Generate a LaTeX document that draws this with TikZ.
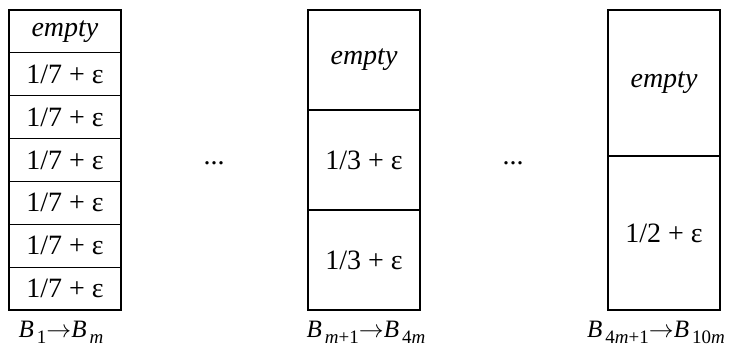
\documentclass[tikz,border=0pt]{standalone}
\usepackage{fontspec}
\setmainfont{Liberation Serif}
\usepackage{tikz}
\newcommand{\bin}[1]{\textit{B}\kern3pt\raisebox{-6pt}{\fontsize{19}{22}\selectfont #1}}

\begin{document}
\begin{tikzpicture}[x=1pt,y=-1pt,line cap=round,
  font=\fontsize{28}{32}\selectfont,
  cell/.style={draw,line width=1.1pt,minimum width=112pt,inner sep=0pt},
  binlabel/.style={anchor=base,font=\fontsize{25}{30}\selectfont}]
\useasboundingbox (0,0) rectangle (735,350);
% first group: seven rows
\node[cell,minimum height=42.86pt] (a0) at (65,31.43) {\textit{empty}};
\node[cell,minimum height=42.86pt] (a1) at (65,74.29) {1/7 + ε};
\node[cell,minimum height=42.86pt] (a2) at (65,117.14) {1/7 + ε};
\node[cell,minimum height=42.86pt] (a3) at (65,160) {1/7 + ε};
\node[cell,minimum height=42.86pt] (a4) at (65,202.86) {1/7 + ε};
\node[cell,minimum height=42.86pt] (a5) at (65,245.71) {1/7 + ε};
\node[cell,minimum height=42.86pt] (a6) at (65,288.57) {1/7 + ε};
\node[binlabel] (la) at (61,337) {\bin{1}$\rightarrow$\bin{\textit{m}}};
% second group: three rows
\node[cell,minimum height=100pt] (b0) at (364,60) {\textit{empty}};
\node[cell,minimum height=100pt] (b1) at (364,160) {1/3 + ε};
\node[cell,minimum height=100pt] (b2) at (364,260) {1/3 + ε};
\node[binlabel] (lb) at (366,337) {\bin{\textit{m}+1}$\rightarrow$\bin{4\textit{m}}};
% third group: two rows
\node[cell,minimum height=146pt] (c0) at (664,83) {\textit{empty}};
\node[cell,minimum height=154pt] (c1) at (664,233) {1/2 + ε};
\node[binlabel] (lc) at (656,337) {\bin{4\textit{m}+1}$\rightarrow$\bin{10\textit{m}}};
% dots between groups
\node (d1) at (214,163) {...};
\node (d2) at (513,163) {...};
\end{tikzpicture}
\end{document}
